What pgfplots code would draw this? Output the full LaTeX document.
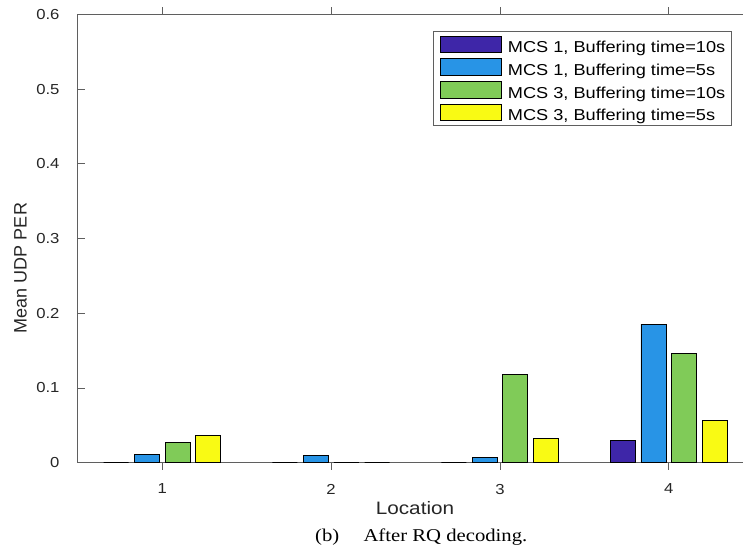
\documentclass[border=0pt]{standalone}
\usepackage{pgfplots}
\pgfplotsset{compat=1.18}
\usepackage{fontspec}
\setmainfont{Liberation Sans}[FakeStretch=1.15]
\newfontfamily\plainsans{Liberation Sans}
\newfontfamily\capfont{Liberation Serif}[FakeStretch=1.15]
\definecolor{c1}{RGB}{62,38,168}
\definecolor{c2}{RGB}{40,148,230}
\definecolor{c3}{RGB}{128,203,88}
\definecolor{c4}{RGB}{249,250,20}
\definecolor{axc}{RGB}{95,95,95}
\begin{document}
\begin{tikzpicture}
\begin{axis}[
  at={(0,0)}, anchor=south west,
  scale only axis, width=675.6pt, height=448.2pt,
  xmin=0.5, xmax=4.5, ymin=0, ymax=0.6,
  xtick={1,2,3,4}, ytick={0,0.1,0.2,0.3,0.4,0.5,0.6},
  axis line style={axc, line width=0.9pt},
  major tick style={axc, line width=0.9pt},
  major tick length=7pt,
  tick align=inside,
  /pgf/number format/assume math mode=true,
  ticklabel style={font=\fontsize{14.5}{16}\selectfont, text=black!85},
  yticklabel style={anchor=east, inner sep=0pt, xshift=-18pt},
  xticklabel style={anchor=north, inner sep=0pt},
  xticklabel shift=14pt,
  ybar, bar width=0.148,
  legend image code/.code={\draw[#1, line width=0.9pt] (0pt,0pt) rectangle (61.7pt,16.6pt);},
  legend style={at={(0.968,0.964)}, anchor=north east, draw=axc, line width=0.9pt, fill=white,
    inner xsep=6pt, inner ysep=4.5pt, row sep=5.2pt,
    nodes={inner sep=0pt, text depth=0pt, font=\fontsize{15.8}{17}\selectfont, text=black},
    cells={anchor=base west},
    /tikz/every odd column/.append style={column sep=5.6pt}},
]
\addplot[fill=c1, draw=black, line width=0.9pt, bar shift=-0.273] coordinates {(1,0) (2,0) (3,0) (4,0.0295)};
\addplot[fill=c2, draw=black, line width=0.9pt, bar shift=-0.091] coordinates {(1,0.0112) (2,0.0099) (3,0.0076) (4,0.1855)};
\addplot[fill=c3, draw=black, line width=0.9pt, bar shift=0.091] coordinates {(1,0.0273) (2,0) (3,0.1175) (4,0.1457)};
\addplot[fill=c4, draw=black, line width=0.9pt, bar shift=0.273] coordinates {(1,0.0367) (2,0) (3,0.0327) (4,0.0559)};
\legend{{MCS 1, Buffering time=10s}, {MCS 1, Buffering time=5s}, {MCS 3, Buffering time=10s}, {MCS 3, Buffering time=5s}}
\end{axis}
\node[anchor=base, font=\fontsize{18}{20}\selectfont, text=black!85] at (337.3pt,-52.3pt) {Location};
\node[rotate=90, anchor=base, font=\plainsans\fontsize{18}{20}\selectfont, text=black!85] at (-51pt,194.7pt) {Mean UDP PER};
\node[anchor=base west, inner sep=0pt, font=\capfont\fontsize{18}{20}\selectfont] at (237.3pt,-79pt) {(b)};
\node[anchor=base west, inner sep=0pt, font=\capfont\fontsize{18}{20}\selectfont] at (285.6pt,-79pt) {After RQ decoding.};
\pgfresetboundingbox
\path[use as bounding box] (-77.7pt,-85.3pt) rectangle (665.3pt,462.7pt);
\end{tikzpicture}
\end{document}
